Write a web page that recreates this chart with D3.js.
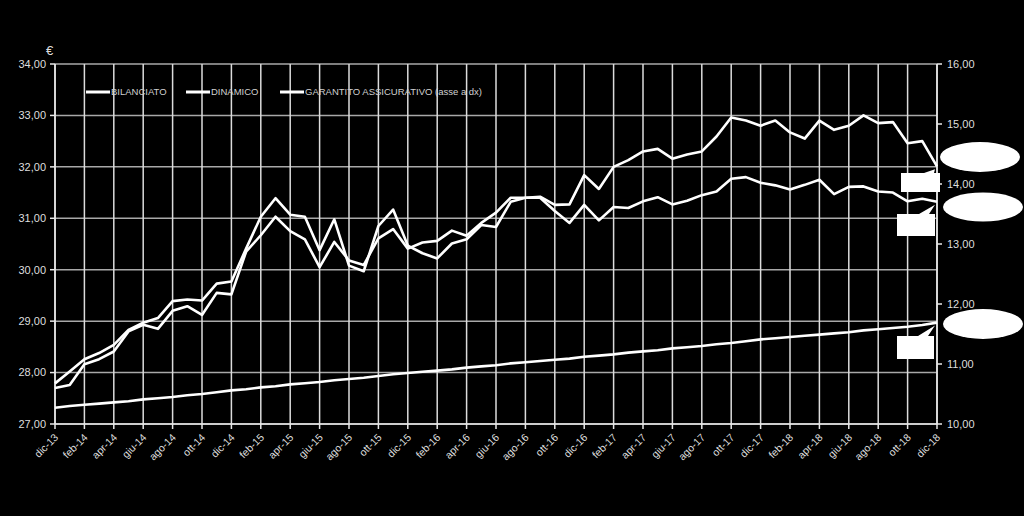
<!DOCTYPE html>
<html><head><meta charset="utf-8">
<script src="https://cdn.jsdelivr.net/npm/d3@7"></script>
<style>body{margin:0;background:#000;}svg{display:block;}</style>
</head><body>
<svg id="c" width="1024" height="516"></svg>
<script>
const monthNames = ["gen","feb","mar","apr","mag","giu","lug","ago","set","ott","nov","dic"];
const categories = ["dic-13"];
for (let y = 14; y <= 18; y++) for (const m of monthNames) categories.push(m + "-" + y);

const dinamico = [27.79,28.02,28.26,28.38,28.54,28.83,28.97,29.06,29.39,29.42,29.40,29.73,29.77,30.41,31.03,31.39,31.07,31.03,30.38,30.98,
  30.08,29.97,30.85,31.17,30.47,30.32,30.22,30.51,30.59,30.87,30.83,31.32,31.40,31.42,31.26,31.27,31.84,31.57,32.00,32.13,
  32.30,32.35,32.16,32.24,32.30,32.59,32.96,32.90,32.80,32.90,32.67,32.55,32.90,32.72,32.80,33.00,32.85,32.87,32.46,32.50,32.01];
const bilanciato = [27.70,27.76,28.16,28.26,28.41,28.80,28.93,28.85,29.20,29.29,29.12,29.55,29.52,30.35,30.67,31.03,30.75,30.59,30.05,30.54,
  30.18,30.09,30.61,30.79,30.41,30.53,30.56,30.76,30.66,30.91,31.11,31.40,31.40,31.40,31.14,30.91,31.26,30.96,31.22,31.20,
  31.33,31.41,31.27,31.34,31.45,31.52,31.77,31.80,31.69,31.64,31.56,31.65,31.75,31.47,31.61,31.62,31.52,31.50,31.33,31.38,31.32];
const garantito = [10.27,10.30,10.32,10.34,10.36,10.38,10.41,10.43,10.45,10.48,10.50,10.53,10.56,10.58,10.61,10.63,10.66,10.68,10.70,10.73,
  10.75,10.77,10.80,10.83,10.85,10.87,10.89,10.91,10.94,10.96,10.98,11.01,11.03,11.05,11.07,11.09,11.12,11.14,11.16,11.19,
  11.21,11.23,11.26,11.28,11.30,11.33,11.35,11.38,11.41,11.43,11.45,11.47,11.49,11.51,11.53,11.56,11.58,11.60,11.62,11.65,11.69];
const leftTicks = [27,28,29,30,31,32,33,34];
const rightTicks = [10,11,12,13,14,15,16];
const seriesNames = ["BILANCIATO","DINAMICO","GARANTITO ASSICURATIVO (asse a dx)"];

const svg = d3.select("#c");
svg.append("rect").attr("width",1024).attr("height",516).attr("fill","#000");
const L = 55, R = 937, T = 64, B = 424;
const x = d3.scaleLinear().domain([0, categories.length - 1]).range([L, R]);
const yL = d3.scaleLinear().domain([27, 34]).range([B, T]);
const yR = d3.scaleLinear().domain([10, 16]).range([B, T]);
const fmt = v => d3.format(".2f")(v).replace(".", ",");
const font = "'Liberation Sans', Arial, sans-serif";

// horizontal gridlines
svg.append("g").selectAll("line").data(leftTicks).join("line")
  .attr("x1", L).attr("x2", R).attr("y1", d => yL(d)).attr("y2", d => yL(d))
  .attr("stroke", "#a8a8a8").attr("stroke-width", 1.5);
// vertical gridlines every 2 months
const labelIdx = d3.range(0, categories.length, 2);
svg.append("g").selectAll("line").data(labelIdx).join("line")
  .attr("x1", d => x(d)).attr("x2", d => x(d)).attr("y1", T).attr("y2", B)
  .attr("stroke", "#dcdcdc").attr("stroke-width", 1.5);

// axes lines
svg.append("line").attr("x1", L).attr("x2", L).attr("y1", T).attr("y2", B).attr("stroke", "#e8e8e8").attr("stroke-width", 1.5);
svg.append("line").attr("x1", R).attr("x2", R).attr("y1", T).attr("y2", B).attr("stroke", "#e8e8e8").attr("stroke-width", 1.5);
svg.append("line").attr("x1", L).attr("x2", R).attr("y1", B).attr("y2", B).attr("stroke", "#e8e8e8").attr("stroke-width", 1.5);

// left axis
const gl = svg.append("g");
gl.selectAll("line").data(leftTicks).join("line")
  .attr("x1", L - 5).attr("x2", L).attr("y1", d => yL(d)).attr("y2", d => yL(d))
  .attr("stroke", "#e8e8e8").attr("stroke-width", 1.5);
gl.selectAll("text").data(leftTicks).join("text")
  .attr("x", 46).attr("y", d => yL(d)).attr("dy", "0.35em")
  .attr("text-anchor", "end").attr("fill", "#dedede")
  .style("font-family", font).style("font-size", "11px").text(fmt);
// right axis
const gr = svg.append("g");
gr.selectAll("line").data(rightTicks).join("line")
  .attr("x1", R).attr("x2", R + 5).attr("y1", d => yR(d)).attr("y2", d => yR(d))
  .attr("stroke", "#e8e8e8").attr("stroke-width", 1.5);
gr.selectAll("text").data(rightTicks).join("text")
  .attr("x", 947).attr("y", d => yR(d)).attr("dy", "0.35em")
  .attr("text-anchor", "start").attr("fill", "#dedede")
  .style("font-family", font).style("font-size", "11px").text(fmt);
// x axis
const gx = svg.append("g");
gx.selectAll("line").data(labelIdx).join("line")
  .attr("x1", d => x(d)).attr("x2", d => x(d)).attr("y1", B).attr("y2", B + 5)
  .attr("stroke", "#e8e8e8").attr("stroke-width", 1.5);
gx.selectAll("text").data(labelIdx).join("text")
  .attr("transform", d => `translate(${x(d) + 4},${B + 14}) rotate(-45)`)
  .attr("text-anchor", "end").attr("fill", "#dedede")
  .style("font-family", font).style("font-size", "10.5px")
  .text(d => categories[d]);

// euro symbol
svg.append("text").attr("x", 46).attr("y", 55).attr("fill", "#dedede")
  .style("font-family", font).style("font-size", "13px").text("€");

// lines
const lineL = d3.line().x((d, i) => x(i)).y(d => yL(d));
const lineR = d3.line().x((d, i) => x(i)).y(d => yR(d));
svg.append("path").datum(garantito).attr("d", lineR).attr("fill", "none").attr("stroke", "#fff").attr("stroke-width", 2.6);
svg.append("path").datum(bilanciato).attr("d", lineL).attr("fill", "none").attr("stroke", "#fff").attr("stroke-width", 2.6).attr("stroke-linejoin","round");
svg.append("path").datum(dinamico).attr("d", lineL).attr("fill", "none").attr("stroke", "#fff").attr("stroke-width", 2.6).attr("stroke-linejoin","round");

// legend
const legendX = [86, 186, 280];
const lg = svg.append("g");
seriesNames.forEach((n, i) => {
  lg.append("line").attr("x1", legendX[i]).attr("x2", legendX[i] + 24).attr("y1", 92).attr("y2", 92)
    .attr("stroke", "#fff").attr("stroke-width", 3);
  lg.append("text").attr("x", legendX[i] + 25).attr("y", 92).attr("dy", "0.35em")
    .attr("fill", "#d0d0d0").style("font-family", font).style("font-size", "9.5px").text(n);
});

// callout shapes (covered data labels)
const ann = svg.append("g").attr("fill", "#fff");
ann.append("ellipse").attr("cx", 980).attr("cy", 157).attr("rx", 40).attr("ry", 15);
ann.append("ellipse").attr("cx", 983).attr("cy", 207).attr("rx", 40).attr("ry", 14.5);
ann.append("ellipse").attr("cx", 983).attr("cy", 324).attr("rx", 40).attr("ry", 15);
const calloutSeries = [dinamico, bilanciato, garantito];
const calloutScale = [yL, yL, yR];
const boxes = [[901, 173, 39, 19], [897, 214, 38, 22], [897, 336, 37, 23]];
boxes.forEach((b, i) => {
  const last = calloutSeries[i].length - 1;
  const px = x(last) - 2, py = calloutScale[i](calloutSeries[i][last]) + 3;
  const [bx, by, bw, bh] = b;
  ann.append("path").attr("d",
    `M${bx},${by} L${bx + bw - 16},${by} L${px},${py} L${bx + bw - 6},${by} L${bx + bw},${by} L${bx + bw},${by + bh} L${bx},${by + bh} Z`);
});
</script>
</body></html>
